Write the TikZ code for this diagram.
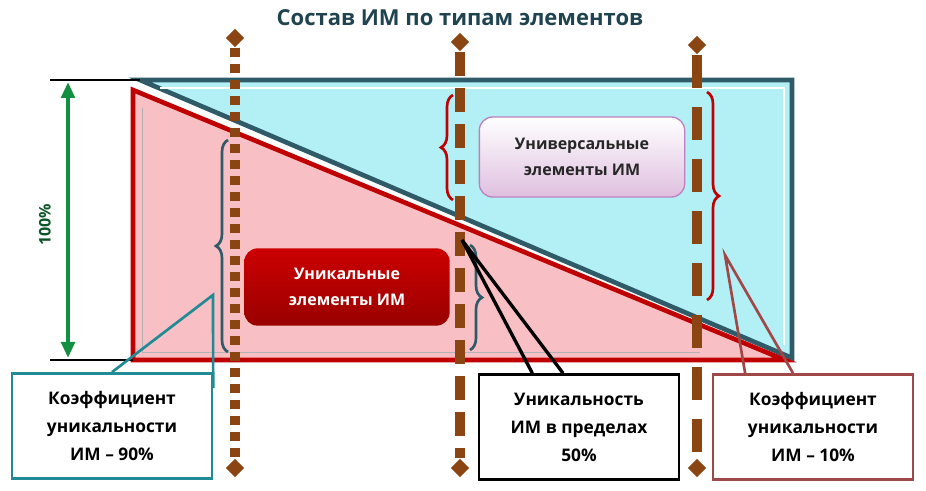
\documentclass[tikz,border=0pt]{standalone}
\usepackage{fontspec}
\setmainfont{Open Sans}
\usetikzlibrary{decorations.pathreplacing,arrows.meta,shapes.geometric}
\definecolor{teal}{HTML}{1F4450}
\definecolor{bteal}{HTML}{2F5A68}
\definecolor{brn}{HTML}{8B4513}
\definecolor{dred}{HTML}{C00000}
\definecolor{bred}{HTML}{A04848}
\definecolor{grn}{HTML}{109040}
\definecolor{lcyan}{HTML}{B2F0F6}
\definecolor{lpink}{HTML}{F8C0C4}
\begin{document}
\begin{tikzpicture}[x=0.75pt,y=-0.75pt,
  lbl/.style={font=\bfseries\fontsize{12}{19}\selectfont,align=center},
  cbox/.style={draw,line width=1.8pt,fill=white,minimum width=150pt,minimum height=79pt,lbl,font=\bfseries\fontsize{13}{21}\selectfont},
  dia/.style={diamond,fill=brn,inner sep=0pt,minimum size=14pt},
  brc/.style={decorate,decoration={brace,amplitude=9pt},line width=2pt}]
\useasboundingbox (0,0) rectangle (926,491);
\node[font=\bfseries\fontsize{16.5}{18}\selectfont,text=teal] (title) at (460,18) {Состав ИМ по типам элементов};
% shapes
\fill[lcyan] (140,80) -- (792,80) -- (792,358) -- cycle;
\draw[bteal,line width=3.5pt,line join=miter] (140,80) -- (792,80) -- (792,358) -- cycle;
\draw[white,line width=1pt] (160,88) -- (784,88) -- (784,345);
\fill[lpink] (133,90) -- (133,360) -- (785,360) -- cycle;
\draw[dred,line width=3.5pt] (133,90) -- (133,360) -- (785,360) -- cycle;
\draw[black!30,line width=0.6pt] (142,108) -- (142,352) -- (700,352);
\coordinate (t1) at (50,80); \coordinate (t2) at (140,80);
\coordinate (b1) at (50,360); \coordinate (b2) at (133,360);
\draw[line width=1pt] (t1) -- (t2); \draw[line width=1pt] (b1) -- (b2);
\coordinate (g1) at (68,82); \coordinate (g2) at (68,358);
\draw[grn,line width=3pt,{Triangle[length=12pt,width=10pt]}-{Triangle[length=12pt,width=10pt]}] (g1) -- (g2);
\node[rotate=90,text=grn!60!black,font=\bfseries\fontsize{12}{13}\selectfont] (pct) at (45,225) {100\%};
% verticals
\node[dia] (d1a) at (235,38) {}; \node[dia] (d1b) at (235,468) {};
\node[dia] (d2a) at (460,42) {}; \node[dia] (d2b) at (460,468) {};
\node[dia] (d3a) at (697,45) {}; \node[dia] (d3b) at (697,468) {};
\draw[brn,line width=7pt,dash pattern=on 7pt off 5pt] (d1a) -- (d1b);
\draw[brn,line width=7pt,dash pattern=on 18pt off 9pt] (d2a) -- (d2b);
\draw[brn,line width=7pt,dash pattern=on 25pt off 14pt] (d3a) -- (d3b);
% braces
\draw[brc,bteal] (228,352) -- (228,140);
\draw[brc,dred] (453,200) -- (453,95);
\draw[brc,bteal] (470,245) -- (470,350);
\draw[brc,dred] (707,92) -- (707,300);
% nodes
\node[lbl,draw=violet!50,line width=1pt,rounded corners=10pt,top color=white,bottom color=violet!25,minimum width=154pt,minimum height=60pt,text=black!85] (uni) at (582,157) {Универсальные\\элементы ИМ};
\node[lbl,rounded corners=10pt,top color=red!80!black,bottom color=red!60!black,minimum width=154pt,minimum height=58pt,text=white] (unq) at (347,287) {Уникальные\\элементы ИМ};
% boxes
\node[cbox,draw=bteal!70!cyan] (k90) at (112,426) {Коэффициент\\уникальности\\ИМ – 90\%};
\node[cbox,draw=black] (u50) at (579,427) {Уникальность\\ИМ в пределах\\50\%};
\node[cbox,draw=bred] (k10) at (813,427) {Коэффициент\\уникальности\\ИМ – 10\%};
\coordinate (p1) at (213,295); \coordinate (p2) at (462,240); \coordinate (p3) at (725,255);
\draw[bteal!70!cyan,line width=2pt] (k90.north) -- (p1) -- ([yshift=-12pt]k90.north east);
\draw[black,line width=2.5pt] ([xshift=-35pt]u50.north) -- (p2) -- ([xshift=-12pt]u50.north);
\draw[bred,line width=2pt] ([xshift=25pt]k10.north west) -- (p3) -- ([xshift=-15pt]k10.north);
\end{tikzpicture}
\end{document}
